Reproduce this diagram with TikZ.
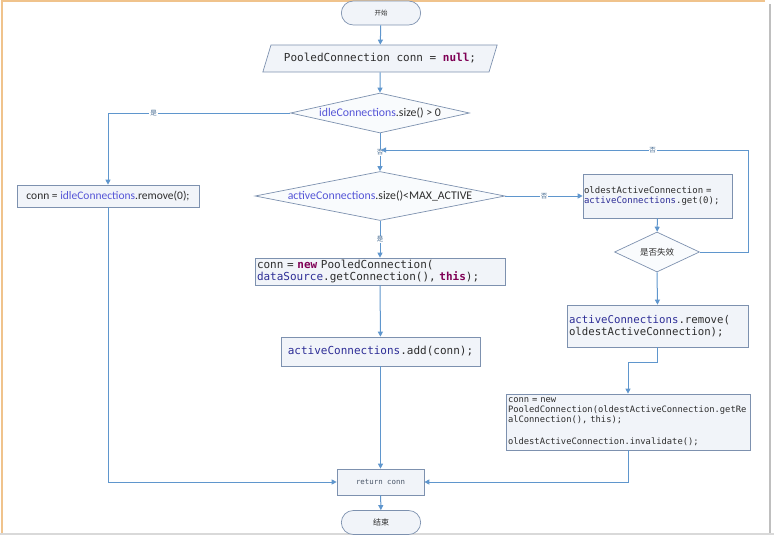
\documentclass[tikz,border=0pt]{standalone}
\usepackage{fontspec}
\setmainfont{Carlito}
\setmonofont{DejaVu Sans Mono}
\newfontfamily\cjk{Noto Sans CJK SC}
\usetikzlibrary{arrows.meta, positioning, shapes.geometric, shapes.misc, shadows}

\definecolor{flowblue}{RGB}{95,150,205}
\definecolor{boxedge}{RGB}{125,145,175}
\definecolor{boxfill}{RGB}{241,244,249}
\definecolor{identblue}{RGB}{45,45,150}
\definecolor{sansblue}{RGB}{85,85,215}
\definecolor{keypurple}{RGB}{127,0,85}
\definecolor{codegray}{RGB}{45,45,45}
\definecolor{frameorange}{RGB}{240,195,140}

\newcommand{\kw}[1]{\textcolor{keypurple}{\bfseries #1}}
\newcommand{\fld}[1]{\textcolor{identblue}{#1}}
\newcommand{\sfld}[1]{\textcolor{sansblue}{#1}}

\begin{document}
\begin{tikzpicture}[
    x=1pt, y=-1pt,
    >={Triangle[width=5pt,length=5pt]},
    flow/.style={->, draw=flowblue, line width=1pt},
    box/.style={draw=boxedge, fill=boxfill, line width=0.7pt, text=codegray},
    proc/.style={box, rectangle, inner sep=1.5pt,
        drop shadow={shadow xshift=1.2pt, shadow yshift=-1.2pt, opacity=0.3}},
    term/.style={box, rounded rectangle, minimum width=86pt, minimum height=24pt},
    decision/.style={box, diamond, fill=white!60!boxfill, inner sep=0pt,
        font=\fontsize{11.8}{13}\selectfont},
    answer/.style={fill=white, inner sep=0.8pt, text=flowblue!70!black,
        font=\cjk\fontsize{6.5}{6.5}\selectfont},
    code/.style={font=\ttfamily\fontsize{11}{12}\selectfont}
]
\useasboundingbox (0,0) rectangle (774,535);

% Frame
\draw[frameorange, line width=2pt] (1.5,535) -- (1.5,1.5) -- (765,1.5);
\draw[black!25, line width=1.2pt] (770,4) -- (770,535);
\draw[black!15, line width=1.2pt] (0,534) -- (774,534);

% Nodes
\node[term, font=\cjk\fontsize{6.5}{7}\selectfont] (start) at (381,13) {开始};
\node[box, code, trapezium, trapezium left angle=66, trapezium right angle=114,
      trapezium stretches=true, minimum width=235pt, minimum height=27pt]
      (init) at (380,58.5) {PooledConnection conn = \kw{null};};
\node[decision, aspect=4.5, minimum width=179pt, minimum height=40pt]
      (idle) at (380,113) {\sfld{idleConnections}.size() > 0};
\node[proc, minimum width=182pt, minimum height=22pt, font=\fontsize{11.5}{13}\selectfont]
      (idlebox) at (108,196) {conn = \sfld{idleConnections}.remove(0);};
\node[decision, aspect=5.1, minimum width=250pt, minimum height=49pt]
      (active) at (380,196) {\sfld{activeConnections}.size()<MAX\_ACTIVE};
\node[proc, code, align=left, text width=246pt, minimum height=27pt, inner sep=2pt]
      (newbox) at (380,271.5) {conn = \kw{new} PooledConnection(\\
      \fld{dataSource}.getConnection(), \kw{this});};
\node[proc, code, minimum width=199pt, minimum height=29pt]
      (addbox) at (380.5,351.5) {\fld{activeConnections}.add(conn);};
\node[proc, align=left, text width=147pt, minimum height=44pt, inner sep=1pt,
      font=\ttfamily\fontsize{9}{10}\selectfont]
      (oldbox) at (657.5,196) {oldestActiveConnection =\\
      \fld{activeConnections}.get(0);};
\node[decision, aspect=2.1, minimum width=85pt, minimum height=40pt,
      font=\cjk\fontsize{8.5}{9}\selectfont] (expired) at (657,252) {是否失效};
\node[proc, align=left, text width=177pt, minimum height=42pt, inner sep=2pt,
      font=\ttfamily\fontsize{10.7}{12}\selectfont]
      (removebox) at (657.5,326) {\fld{activeConnections}.remove(\\
      oldestActiveConnection);};
\node[proc, align=left, text width=240pt, minimum height=56pt, inner sep=2pt,
      font=\ttfamily\fontsize{8.8}{10}\selectfont]
      (newconnbox) at (628,422) {conn = new\\
      PooledConnection(oldestActiveConnection.getRe\\
      alConnection(), this);\\[12pt]
      oldestActiveConnection.invalidate();};
\node[proc, minimum width=87pt, minimum height=26pt, text=boxedge!60!black,
      font=\ttfamily\fontsize{7.4}{8}\selectfont] (ret) at (380.5,482) {return conn};
\node[term, font=\cjk\fontsize{8}{9}\selectfont] (stop) at (381,522.5) {结束};

\coordinate (merge) at (381,150);
\coordinate (loopcorner) at (748,150);

% Edges
\draw[flow] (start) -- (init);
\draw[flow] (init) -- (idle);
\draw[flow] (idle.west) -| node[answer, pos=0.375] {是} (idlebox.north);
\draw[flow] (idle.south) -- node[answer] {否} (active.north);
\draw[flow] (active.east) -- node[answer] {否} (oldbox.west);
\draw[flow] (active.south) -- node[answer] {是} (newbox.north);
\draw[flow] (newbox) -- (addbox);
\draw[flow] (addbox) -- (ret);
\draw[flow] (idlebox.south) |- (ret.west);
\draw[flow] (oldbox) -- (expired);
\draw[flow] (expired.east) -| (loopcorner) -- node[answer, pos=0.26] {否} (merge);
\draw[flow] (expired.south) -- (removebox.north);
\draw[flow] (removebox.south) -- ++(0,15) -| (newconnbox.north);
\draw[flow] (newconnbox.south) |- (ret.east);
\draw[flow] (ret) -- (stop);

\end{tikzpicture}
\end{document}
